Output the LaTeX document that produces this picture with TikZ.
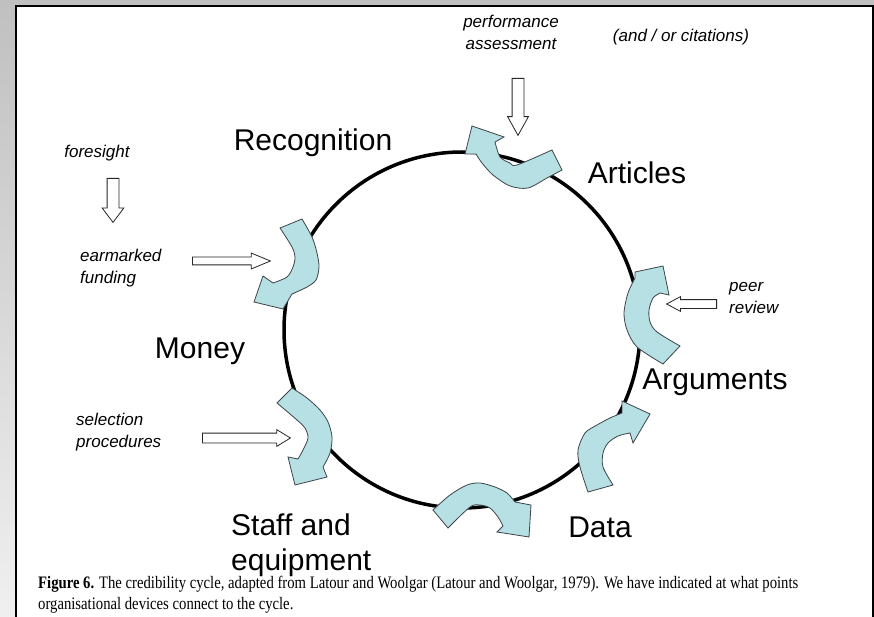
\documentclass[tikz,border=0pt]{standalone}
\usepackage{fontspec}
\setmainfont{Liberation Sans}
\newfontfamily\capfont{Liberation Serif}
\usetikzlibrary{shapes.arrows}
\definecolor{panelgray}{RGB}{192,192,192}
\definecolor{cyclefill}{RGB}{183,224,228}
\definecolor{cycleedge}{RGB}{60,68,72}

\tikzstyle{stage}=[inner sep=0pt, font=\fontsize{30}{35}\selectfont, align=left]
\tikzstyle{device}=[inner sep=0pt, font=\fontsize{17}{22}\selectfont\itshape, align=left]
\tikzstyle{turn}=[fill=cyclefill, draw=cycleedge, line width=0.8pt]
\tikzstyle{hollow}=[single arrow, draw=black!85, fill=white, line width=0.8pt, inner xsep=0pt, anchor=tail]

\begin{document}
\begin{tikzpicture}[x=1pt, y=-1pt]
\useasboundingbox (0,0) rectangle (874,617);
% frame
\fill[panelgray] (0,0) rectangle (874,617);
\shade[top color=panelgray, bottom color=gray!12] (0,0) rectangle (15,617);
\fill[white] (16,6) rectangle (873,617);
\draw[line width=2.5pt] (16.2,617) -- (16.2,6.2) -- (872.8,6.2) -- (872.8,617);

\node[circle, draw, line width=3.5pt, minimum size=356pt] (cycle) at (462,330) {};

% curved arrows on the cycle
\draw[turn] (552,150) -- plot[smooth] coordinates {(562,170) (547,178) (528,188) (510,186) (493,175) (482,163) (476,154)}
  -- (465,154) -- (472,126) -- (504,137) -- plot[smooth] coordinates {(495,142) (500,157) (510,163) (517,165) (552,150)} -- cycle;
\draw[turn] (280,228) -- plot[smooth] coordinates {(302,219) (312,237) (317,253) (319,267) (316,280) (307,287) (292,294)}
  -- (283,309) -- (254,302) -- (263,276) -- plot[smooth] coordinates {(273,283) (287,277) (293,267) (295,257) (292,247) (280,228)} -- cycle;
\draw[turn] (680,346) -- plot[smooth] coordinates {(663,364) (637,347) (627,330) (624,313) (628,293) (635,278)}
  -- (635,272) -- (663,266) -- (669,295) -- plot[smooth] coordinates {(660,293) (653,298) (649,310) (650,322) (657,332) (680,346)} -- cycle;
\draw[turn] (613,485) -- plot[smooth] coordinates {(588,492) (580,467) (578,450) (585,433) (597,425) (610,418) (622,413)}
  -- (622,401) -- (650,414) -- (633,443) -- plot[smooth] coordinates {(630,433) (618,436) (608,443) (603,453) (603,467) (613,485)} -- cycle;
\draw[turn] (448,528) -- plot[smooth] coordinates {(433,510) (450,495) (467,485) (480,483) (495,487) (507,493) (515,502)}
  -- (531,505) -- (529,537) -- (497,532) -- plot[smooth] coordinates {(503,526) (498,517) (490,508) (480,505) (470,507) (448,528)} -- cycle;
\draw[turn] (277,403) -- plot[smooth] coordinates {(292,388) (307,398) (320,410) (328,422) (332,437) (330,453) (323,467)}
  -- (327,477) -- (295,485) -- (288,457) -- plot[smooth] coordinates {(298,459) (303,450) (308,438) (305,428) (297,420) (277,403)} -- cycle;

% stages
\node[stage] (recognition) at (313,143) {Recognition};
\node[stage] (articles) at (637,173) {Articles};
\node[stage] (arguments) at (715,382) {Arguments};
\node[stage] (data) at (600,527) {Data};
\node[stage, anchor=west] (staff) at (231,545) {Staff and\\equipment};
\node[stage] (money) at (200,351) {Money};

% devices
\node[device, align=center] (assessment) at (511,32) {performance\\assessment};
\node[device] (citations) at (681,37) {(and / or citations)};
\node[device] (foresight) at (97,153) {foresight};
\node[device, anchor=west] (funding) at (80,268) {earmarked\\funding};
\node[device, anchor=west] (peer) at (729,298) {peer\\review};
\node[device, anchor=west] (selection) at (76,432) {selection\\procedures};

\node[hollow, minimum height=57pt, inner ysep=5.5pt, single arrow head extend=4.5pt, single arrow tip angle=58, rotate=-90] (assessin) at (518,78) {};
\node[hollow, minimum height=44pt, inner ysep=5.5pt, single arrow head extend=5pt, single arrow tip angle=74, rotate=-90] (foresightin) at (113,178) {};
\node[hollow, minimum height=78pt, inner ysep=3.5pt, single arrow head extend=4pt, single arrow tip angle=45] (fundingin) at (192,261) {};
\node[hollow, minimum height=50pt, inner ysep=4pt, single arrow head extend=3pt, single arrow tip angle=56, rotate=180] (peerin) at (717,304) {};
\node[hollow, minimum height=88pt, inner ysep=4.5pt, single arrow head extend=3.5pt, single arrow tip angle=63] (selectionin) at (202,438) {};

\node[anchor=west, inner sep=0pt, font=\capfont\fontsize{17.5}{21}\selectfont] (caption) at (38,595)
  {\resizebox{760pt}{\height}{\begin{tabular}{@{}l@{}}\textbf{Figure 6.} The credibility cycle, adapted from Latour and Woolgar (Latour and Woolgar, 1979). We have indicated at what points\\organisational devices connect to the cycle.\end{tabular}}};
\end{tikzpicture}
\end{document}
